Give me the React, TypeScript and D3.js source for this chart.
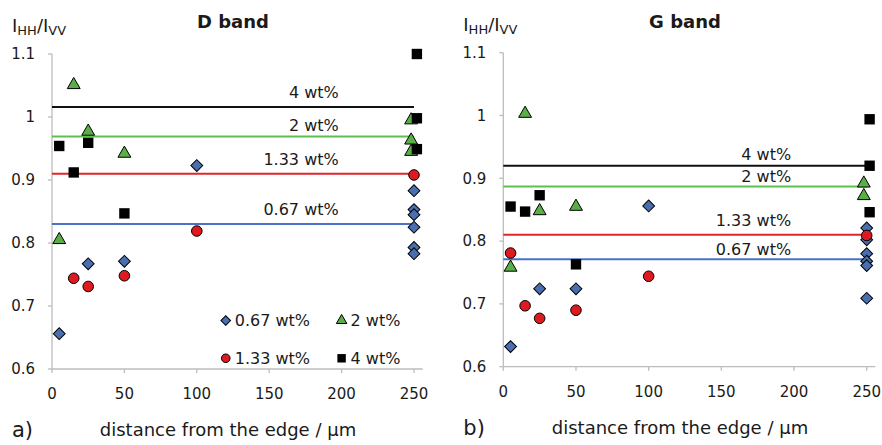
import * as d3 from "d3";

const SERIES = ["0.67 wt%", "1.33 wt%", "2 wt%", "4 wt%"];
const X_TICKS = [0, 50, 100, 150, 200, 250];
const Y_TICKS = [0.6, 0.7, 0.8, 0.9, 1, 1.1];

// D band, [distance, IHH/IVV]
const D_067: [number, number][] = [
  [5, 0.656], [25, 0.767], [50, 0.771], [100, 0.923],
  [250, 0.883], [250, 0.853], [250, 0.845], [250, 0.825], [250, 0.793], [250, 0.783],
];
const D_133: [number, number][] = [[15, 0.744], [25, 0.731], [50, 0.748], [100, 0.819], [250, 0.908]];
const D_2: [number, number][] = [
  [5, 0.805], [15, 1.051], [25, 0.977], [50, 0.942], [248, 0.995], [248, 0.963], [248, 0.945],
];
const D_4: [number, number][] = [
  [5, 0.954], [15, 0.912], [25, 0.959], [50, 0.847], [252, 1.1], [252, 0.998], [252, 0.949],
];
const D_MEANS = [0.83, 0.91, 0.969, 1.016];

// G band
const G_067: [number, number][] = [
  [5, 0.632], [25, 0.724], [50, 0.724], [100, 0.856],
  [250, 0.821], [250, 0.802], [250, 0.78], [250, 0.768], [250, 0.761], [250, 0.709],
];
const G_133: [number, number][] = [[5, 0.781], [15, 0.697], [25, 0.677], [50, 0.69], [100, 0.744], [250, 0.809]];
const G_2: [number, number][] = [
  [5, 0.758], [15, 1.003], [25, 0.848], [50, 0.855], [248, 0.892], [248, 0.872],
];
const G_4: [number, number][] = [
  [5, 0.855], [15, 0.847], [25, 0.873], [50, 0.763], [252, 0.994], [252, 0.92], [252, 0.846],
];
const G_MEANS = [0.771, 0.81, 0.887, 0.92];

const FONT = '"DejaVu Sans", sans-serif';
const MARK_FILL = ["#4a6fb0", "#dc1a1f", "#5aae47", "#000"];
const LINE_COLOR = ["#4a72c4", "#e0262b", "#5cc04e", "#111"];
const SYMBOLS = [d3.symbolSquare, d3.symbolCircle, d3.symbolTriangle, d3.symbolSquare];
const SIZES = [70, 88, 72, 108];

function Marker({ k, x, y, scale = 1 }: { k: number; x: number; y: number; scale?: number }) {
  const d = d3.symbol(SYMBOLS[k], SIZES[k] * scale)() as string;
  const rot = k === 0 ? " rotate(45)" : "";
  return (
    <path
      d={d}
      transform={`translate(${x},${y})${rot}`}
      fill={MARK_FILL[k]}
      stroke="#000"
      strokeWidth={k === 3 ? 0 : 1}
    />
  );
}

interface PanelProps {
  title: string;
  tag: string;
  x0: number;
  x1: number;
  yTop: number;
  yBottom: number;
  series: [number, number][][];
  means: number[];
  labelLift: number[];
  legend?: boolean;
}

function Panel({ title, tag, x0, x1, yTop, yBottom, series, means, labelLift, legend }: PanelProps) {
  const x = d3.scaleLinear().domain([0, 250]).range([x0, x1]);
  const y = d3.scaleLinear().domain([0.6, 1.1]).range([yBottom, yTop]);
  const axisColor = "#bdbdbd";
  return (
    <g fontFamily={FONT} fill="#1a1a1a">
      {/* axes */}
      <line x1={x(0)} x2={x(0)} y1={y(0.6)} y2={y(1.1)} stroke={axisColor} strokeWidth={1.3} />
      <line x1={x(0)} x2={x(256)} y1={y(0.6)} y2={y(0.6)} stroke={axisColor} strokeWidth={1.3} />
      {Y_TICKS.map((t) => (
        <g key={t}>
          <line x1={x(0) - 4} x2={x(0)} y1={y(t)} y2={y(t)} stroke={axisColor} strokeWidth={1.3} />
          <text x={x(0) - 17} y={y(t)} dy="0.35em" textAnchor="end" fontSize={15}>
            {String(t)}
          </text>
        </g>
      ))}
      {X_TICKS.map((t) => (
        <g key={t}>
          <line x1={x(t)} x2={x(t)} y1={y(0.6)} y2={y(0.6) + 4} stroke={axisColor} strokeWidth={1.3} />
          <text x={x(t)} y={y(0.6) + 30} textAnchor="middle" fontSize={15}>
            {t}
          </text>
        </g>
      ))}

      {/* mean lines */}
      {means.map((m, i) => (
        <g key={i}>
          <line x1={x(0)} x2={x(250)} y1={y(m)} y2={y(m)} stroke={LINE_COLOR[i]} strokeWidth={2} />
          <text x={x(198)} y={y(m) - labelLift[i]} dy="0.35em" textAnchor="end" fontSize={16}>
            {SERIES[i]}
          </text>
        </g>
      ))}

      {/* points */}
      {series.map((pts, k) =>
        pts.map(([dx, v], j) => <Marker key={`${k}-${j}`} k={k} x={x(dx)} y={y(v)} />)
      )}

      {/* titles */}
      <text x={x0 - 40} y={y(1.1) - 22} fontSize={18}>
        I<tspan fontSize={13} dy={3}>HH</tspan>
        <tspan dy={-3}>/I</tspan>
        <tspan fontSize={13} dy={3}>VV</tspan>
      </text>
      <text x={x(125)} y={28} textAnchor="middle" fontSize={18} fontWeight="bold">
        {title}
      </text>
      <text x={x(0) - 40} y={y(0.6) + 68} fontSize={21}>
        {tag}
      </text>
      <text x={(x(0) + x(250)) / 2 - 5} y={y(0.6) + 67} textAnchor="middle" fontSize={18}>
        distance from the edge / µm
      </text>

      {legend && (
        <g fontSize={16}>
          {SERIES.map((s, i) => {
            const lx = i % 2 === 0 ? x(120) : x(200);
            const ly = i < 2 ? y(0.677) : y(0.617);
            const order = [0, 2, 1, 3][i];
            return (
              <g key={s}>
                <Marker k={order} x={lx} y={ly} scale={0.66} />
                <text x={lx + 9} y={ly} dy="0.35em">
                  {SERIES[order]}
                </text>
              </g>
            );
          })}
        </g>
      )}
    </g>
  );
}

export default function App() {
  return (
    <svg
      width={882}
      height={445}
      viewBox="0 0 882 445"
      style={{ position: "absolute", left: 0, top: 0, background: "#fff" }}
    >
      <Panel
        title="D band"
        tag="a)"
        x0={52}
        x1={414}
        yTop={54}
        yBottom={369}
        series={[D_067, D_133, D_2, D_4]}
        means={D_MEANS}
        labelLift={[15, 14.7, 10.7, 15]}
        legend
      />
      <Panel
        title="G band"
        tag="b)"
        x0={503.3}
        x1={866.7}
        yTop={52.7}
        yBottom={366.7}
        series={[G_067, G_133, G_2, G_4]}
        means={G_MEANS}
        labelLift={[9.7, 14, 10, 11.4]}
      />
    </svg>
  );
}
